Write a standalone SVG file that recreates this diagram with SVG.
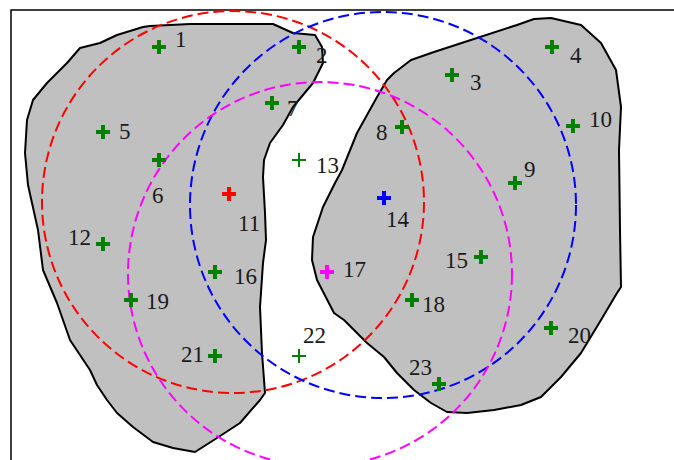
<svg xmlns="http://www.w3.org/2000/svg" width="674" height="460" viewBox="0 0 674 460">
<style>
.blob{fill:#c0c0c0;stroke:#000;stroke-width:2;stroke-linejoin:round}
.circ{fill:none;stroke-width:2;stroke-dasharray:11,5}
.cr{stroke-width:4;fill:none}
.cs{stroke-width:2;fill:none}
.lbl{font-family:"Liberation Serif","Times New Roman",serif;font-size:23px;fill:#1a1a1a}
</style>
<defs>
<path id="plus" d="M-7,0H7M0,-7V7"/>
</defs>
<rect width="674" height="460" fill="#fff"/>
<path d="M11,460V10H674" fill="none" stroke="#000" stroke-width="1.5"/>
<g id="regions">
<path id="blobLeft" class="blob" d="M150,26 L190,24 L230,24 L273,24 L293,33 L315,35 L322,47 L323,63 L313,83 L293,107 L283,125 L270,143 L264,160 L263,177 L265,213 L266,240 L263,263 L260,307 L262,353 L265,393 L260,400 L240,423 L217,438 L195,452 L173,448 L153,442 L133,427 L117,413 L107,400 L97,385 L90,370 L70,340 L57,303 L43,270 L38,230 L28,185 L25,153 L27,120 L33,100 L47,83 L67,63 L80,48 L100,43 L117,35 L143,27 Z"/>
<path id="blobRight" class="blob" d="M387,80 L394,73 L411,60 L434,52 L477,38 L517,25 L534,19 L551,18 L581,25 L601,43 L616,70 L621,107 L619,150 L620,230 L621,287 L617,293 L601,320 L581,353 L561,377 L541,397 L521,405 L494,410 L467,413 L447,412 L431,403 L414,390 L397,373 L384,357 L367,343 L344,320 L334,313 L317,280 L312,260 L313,237 L323,207 L335,183 L342,170 L357,133 L377,97 Z"/>
</g>
<g id="circles">
<circle id="circleRed" class="circ" cx="233" cy="202" r="191" stroke="#ff0000"/>
<circle id="circleBlue" class="circ" cx="383" cy="205" r="193" stroke="#0000ff"/>
<circle id="circleMagenta" class="circ" cx="320" cy="274" r="192" stroke="#ff00ff" stroke-dasharray="10,5"/>
</g>
<g id="points">
<g id="p1"><use href="#plus" class="cr" stroke="#008000" x="159" y="47"/><text class="lbl" x="175" y="47">1</text></g>
<g id="p2"><use href="#plus" class="cr" stroke="#008000" x="299" y="47"/><text class="lbl" x="316" y="63">2</text></g>
<g id="p3"><use href="#plus" class="cr" stroke="#008000" x="452" y="75"/><text class="lbl" x="470" y="90">3</text></g>
<g id="p4"><use href="#plus" class="cr" stroke="#008000" x="552" y="47"/><text class="lbl" x="570" y="63">4</text></g>
<g id="p5"><use href="#plus" class="cr" stroke="#008000" x="103" y="132"/><text class="lbl" x="119" y="139">5</text></g>
<g id="p6"><use href="#plus" class="cr" stroke="#008000" x="159" y="160"/><text class="lbl" x="152" y="203">6</text></g>
<g id="p7"><use href="#plus" class="cr" stroke="#008000" x="272" y="103"/><text class="lbl" x="287" y="116">7</text></g>
<g id="p8"><use href="#plus" class="cr" stroke="#008000" x="402" y="127"/><text class="lbl" x="376" y="140">8</text></g>
<g id="p9"><use href="#plus" class="cr" stroke="#008000" x="515" y="183"/><text class="lbl" x="524" y="177">9</text></g>
<g id="p10"><use href="#plus" class="cr" stroke="#008000" x="573" y="126"/><text class="lbl" x="589" y="127">10</text></g>
<g id="p11"><use href="#plus" class="cr" stroke="#ff0000" x="229" y="194"/><text class="lbl" x="238" y="231">11</text></g>
<g id="p12"><use href="#plus" class="cr" stroke="#008000" x="103" y="244"/><text class="lbl" x="68" y="245">12</text></g>
<g id="p13"><use href="#plus" class="cs" stroke="#008000" x="299" y="160"/><text class="lbl" x="316" y="173">13</text></g>
<g id="p14"><use href="#plus" class="cr" stroke="#0000ff" x="384" y="198"/><text class="lbl" x="386" y="227">14</text></g>
<g id="p15"><use href="#plus" class="cr" stroke="#008000" x="481" y="257"/><text class="lbl" x="445" y="268">15</text></g>
<g id="p16"><use href="#plus" class="cr" stroke="#008000" x="215" y="272"/><text class="lbl" x="234" y="284">16</text></g>
<g id="p17"><use href="#plus" class="cr" stroke="#ff00ff" x="327" y="272"/><text class="lbl" x="343" y="277">17</text></g>
<g id="p18"><use href="#plus" class="cr" stroke="#008000" x="412" y="300"/><text class="lbl" x="422" y="312">18</text></g>
<g id="p19"><use href="#plus" class="cr" stroke="#008000" x="131" y="300"/><text class="lbl" x="146" y="309">19</text></g>
<g id="p20"><use href="#plus" class="cr" stroke="#008000" x="551" y="328"/><text class="lbl" x="568" y="343">20</text></g>
<g id="p21"><use href="#plus" class="cr" stroke="#008000" x="215" y="356"/><text class="lbl" x="181" y="362">21</text></g>
<g id="p22"><use href="#plus" class="cs" stroke="#008000" x="299" y="356"/><text class="lbl" x="303" y="343">22</text></g>
<g id="p23"><use href="#plus" class="cr" stroke="#008000" x="439" y="384"/><text class="lbl" x="409" y="375">23</text></g>
</g>
</svg>
